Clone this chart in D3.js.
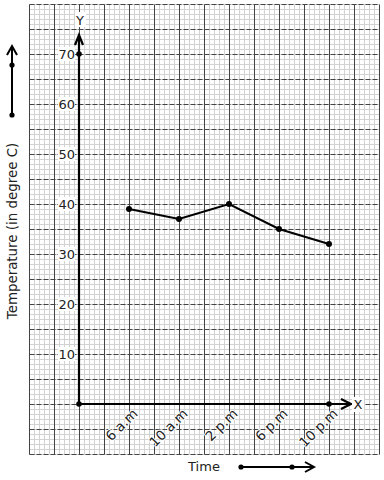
<!DOCTYPE html>
<html>
<head>
<meta charset="utf-8">
<script src="https://cdn.jsdelivr.net/npm/d3@7"></script>
<style>
body { margin: 0; background: #fff; }
text { font-family: "DejaVu Sans", sans-serif; fill: #222; }
</style>
</head>
<body>
<svg width="384" height="480"></svg>
<script>
var times = ['6 a.m', '10 a.m', '2 p.m', '6 p.m', '10 p.m'];
var temps = [39, 37, 40, 35, 32];
var yTicks = [10, 20, 30, 40, 50, 60, 70];

var svg = d3.select('svg');

// graph paper
var gx0 = 29.5, gx1 = 379.5, gy0 = 4.5, gy1 = 454.5;
var grid = svg.append('g');
grid.selectAll('.vmin').data(d3.range(gx0, gx1 + 1, 5)).enter().append('line')
    .attr('x1', d => d).attr('x2', d => d).attr('y1', gy0).attr('y2', gy1)
    .attr('stroke', '#d2d2d2');
grid.selectAll('.hmin').data(d3.range(gy0, gy1 + 1, 5)).enter().append('line')
    .attr('x1', gx0).attr('x2', gx1).attr('y1', d => d).attr('y2', d => d)
    .attr('stroke', '#d2d2d2');
grid.selectAll('.vmaj').data(d3.range(gx0, gx1 + 1, 25)).enter().append('line')
    .attr('x1', d => d).attr('x2', d => d).attr('y1', gy0).attr('y2', gy1)
    .attr('stroke', '#444');
grid.selectAll('.hmaj').data(d3.range(gy0, gy1 + 1, 25)).enter().append('line')
    .attr('x1', gx0).attr('x2', gx1).attr('y1', d => d).attr('y2', d => d)
    .attr('stroke', '#444').attr('stroke-dasharray', '5,2');

// scales
var x = d3.scaleLinear().domain([0, 5]).range([79, 329]);
var y = d3.scaleLinear().domain([0, 70]).range([404, 54]);

var axes = svg.append('g').attr('stroke', '#000').attr('stroke-width', 2.2).attr('fill', 'none');
// y axis
axes.append('line').attr('x1', x(0)).attr('x2', x(0)).attr('y1', y(0)).attr('y2', 36);
axes.append('path').attr('d', 'M' + (x(0) - 4) + ',' + 45 + 'L' + x(0) + ',' + 35 + 'L' + (x(0) + 4) + ',' + 45);
// x axis
axes.append('line').attr('x1', x(0)).attr('x2', 350).attr('y1', y(0)).attr('y2', y(0));
axes.append('path').attr('d', 'M' + 341 + ',' + (y(0) - 5) + 'L' + 351 + ',' + y(0) + 'L' + 341 + ',' + (y(0) + 5));

svg.append('circle').attr('cx', x(0)).attr('cy', y(0)).attr('r', 2.8).attr('fill', '#000');
svg.append('circle').attr('cx', x(0)).attr('cy', y(70)).attr('r', 2.8).attr('fill', '#000');
svg.append('circle').attr('cx', x(5)).attr('cy', y(0)).attr('r', 2.8).attr('fill', '#000');

// y tick labels
var yl = svg.append('g').selectAll('g').data(yTicks).enter().append('g')
    .attr('transform', d => 'translate(' + (x(0) - 4) + ',' + y(d) + ')');
yl.append('rect').attr('x', -17).attr('y', -7).attr('width', 17).attr('height', 14).attr('fill', '#fff');
yl.append('text').attr('text-anchor', 'end').attr('dy', '0.36em').style('font-size', '13px').text(d => d);

// x tick labels
svg.append('g').selectAll('text').data(times).enter().append('text')
    .attr('transform', (d, i) => 'translate(' + (x(i + 1) + 6) + ',' + 411 + ') rotate(-45)')
    .attr('text-anchor', 'end').attr('dy', '0.36em')
    .style('font-size', '13.5px')
    .style('paint-order', 'stroke').style('stroke', '#fff').style('stroke-width', 2)
    .text(d => d);

// axis letters
svg.append('rect').attr('x', 75).attr('y', 12).attr('width', 11).attr('height', 15).attr('fill', '#fff');
svg.append('text').attr('x', 80).attr('y', 25).attr('text-anchor', 'middle').style('font-size', '13px').text('Y');
svg.append('rect').attr('x', 352).attr('y', 397).attr('width', 12).attr('height', 15).attr('fill', '#fff');
svg.append('text').attr('x', 358).attr('y', y(0) + 5).attr('text-anchor', 'middle').style('font-size', '13px').text('X');

// line
var line = d3.line().x((d, i) => x(i + 1)).y(d => y(d));
svg.append('path').datum(temps).attr('d', line)
    .attr('fill', 'none').attr('stroke', '#000').attr('stroke-width', 2);
svg.selectAll('.pt').data(temps).enter().append('circle')
    .attr('cx', (d, i) => x(i + 1)).attr('cy', d => y(d)).attr('r', 3).attr('fill', '#000');

// axis titles
svg.append('text').attr('x', 204).attr('y', 471).attr('text-anchor', 'middle')
    .style('font-size', '13px').text('Time');
svg.append('text').attr('transform', 'translate(17,231) rotate(-90)').attr('text-anchor', 'middle')
    .style('font-size', '13.4px').text('Temperature (in degree C)');

// direction arrows
var arr = svg.append('g').attr('stroke', '#000').attr('stroke-width', 2).attr('fill', 'none');
arr.append('line').attr('x1', 241).attr('x2', 313).attr('y1', 467).attr('y2', 467);
arr.append('path').attr('d', 'M305,462L314,467L305,472');
arr.append('line').attr('x1', 12).attr('x2', 12).attr('y1', 115).attr('y2', 47);
arr.append('path').attr('d', 'M7,55L12,46L17,55');
svg.append('circle').attr('cx', 241).attr('cy', 467).attr('r', 2.6).attr('fill', '#000');
svg.append('circle').attr('cx', 292).attr('cy', 467).attr('r', 2.6).attr('fill', '#000');
svg.append('circle').attr('cx', 12).attr('cy', 115).attr('r', 2.6).attr('fill', '#000');
svg.append('circle').attr('cx', 12).attr('cy', 65).attr('r', 2.6).attr('fill', '#000');
</script>
</body>
</html>
